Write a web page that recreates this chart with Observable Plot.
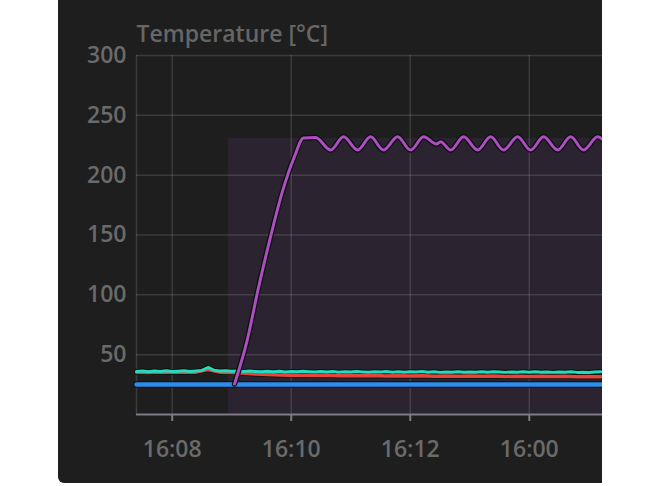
<!DOCTYPE html>
<html>
<head>
<meta charset="utf-8">
<script src="https://cdn.jsdelivr.net/npm/d3@7"></script>
<script src="https://cdn.jsdelivr.net/npm/@observablehq/plot@0.6"></script>
<style>
  html, body { margin: 0; padding: 0; background: #ffffff; width: 670px; height: 486px; overflow: hidden; }
  #panel { position: absolute; left: 58px; top: 0; width: 544px; height: 483px; background: #1e1e1e; border-bottom-left-radius: 6px; overflow: hidden; }
</style>
</head>
<body>
<div id="panel"></div>
<script>
// ---- data (minutes after 16:00) ----
const title = "Temperature [°C]";
const xDomain = [7.4, 15.23];
const yDomain = [0, 300];
const xTicks = [8, 10, 12, 14];
const xTickLabels = ["16:08", "16:10", "16:12", "16:00"];
const yTicks = [50, 100, 150, 200, 250, 300];

// shaded heating window
const shadeStart = 8.946, shadeEnd = 15.4, shadeTop = 230.6;

// purple (heater) series
const purpleT = [9.047, 9.25, 9.45, 9.65, 9.85, 10.05, 10.207, 10.409, 10.661, 10.879, 11.114, 11.333, 11.551, 11.787, 12.005, 12.224, 12.442, 12.510, 12.678, 12.896, 13.131, 13.350, 13.568, 13.803, 14.022, 14.240, 14.476, 14.694, 14.913, 15.148, 15.37];
const purpleV = [25.5, 60, 106, 148, 186, 215, 231, 231.5, 221, 232, 221, 232, 221, 232, 221, 232, 226, 228, 221, 232, 221, 232, 221, 232, 221, 232, 221, 232, 221, 232, 221];

// cyan series, sampled every 0.1 min from 7.4
const cyanStart = 7.4, cyanStep = 0.1;
const cyanV = [36.0, 36.4, 35.8, 36.3, 36.0, 36.5, 35.9, 36.2, 36.6, 36.0, 36.4, 36.8,
  39.3,
  37.0, 36.3, 36.6, 36.1, 36.4, 35.9, 36.3, 36.0, 35.7, 36.2, 35.8, 36.1, 35.6, 36.0, 35.7, 36.2,
  35.8, 35.5, 36.0, 35.6, 35.9, 35.4, 35.8, 35.5, 36.0, 35.6, 35.3, 35.8, 35.5, 35.9, 35.4, 35.7,
  35.3, 35.8, 35.5, 35.9, 35.4, 35.7, 35.2, 35.6, 35.4, 35.8, 35.3, 35.6, 35.4, 35.8, 35.3, 35.7,
  35.5, 35.2, 35.6, 35.3, 35.7, 35.4, 35.8, 35.3, 35.6, 35.2, 35.5, 35.3, 35.7, 35.2, 35.4, 35.1,
  35.6, 35.8];

// red series, sampled every 0.2 min from 7.4
const redStart = 7.4, redStep = 0.2;
const redV = [35.4, 35.2, 35.5, 35.3, 35.6, 35.4, 37.6, 35.4, 35.0, 34.4, 33.8, 33.4, 33.1, 32.8,
  32.9, 32.6, 32.7, 32.4, 32.5, 32.3, 32.5, 32.2, 32.4, 32.1, 32.3, 32.0, 32.2, 31.9, 32.1, 31.9,
  32.1, 31.8, 32.0, 31.7, 31.9, 31.7, 31.9, 31.6, 31.8, 31.6];

// blue series
const blueT = [7.4, 15.4];
const blueV = [25, 25];

// ---- build tables ----
const purple = purpleT.map((t, i) => ({t, v: purpleV[i]}));
const cyan = cyanV.map((v, i) => ({t: cyanStart + i * cyanStep, v}));
const red = redV.map((v, i) => ({t: redStart + i * redStep, v}));
const blue = blueT.map((t, i) => ({t, v: blueV[i]}));

const halo = "#08120c";
const gridStroke = "rgba(255,255,255,0.13)";
const axisStroke = "#7d7b88";

const chart = Plot.plot({
  width: 544,
  height: 483,
  marginLeft: 78,
  marginRight: 0,
  marginTop: 55,
  marginBottom: 69,
  x: {type: "linear", domain: xDomain},
  y: {type: "linear", domain: yDomain},
  style: {
    background: "transparent",
    color: "#6a6a6a",
    fontFamily: "'Open Sans', sans-serif",
    fontSize: "23px",
    fontWeight: 600
  },
  marks: [
    Plot.rect([{x1: shadeStart, x2: shadeEnd, y1: yDomain[0], y2: shadeTop}], {x1: "x1", x2: "x2", y1: "y1", y2: "y2", fill: "#2b2330"}),
    Plot.gridY({ticks: yTicks, stroke: gridStroke, strokeOpacity: 1, strokeWidth: 1.5}),
    Plot.gridX({ticks: xTicks, stroke: gridStroke, strokeOpacity: 1, strokeWidth: 1.5}),
    Plot.ruleX([xDomain[0]], {stroke: gridStroke, strokeWidth: 1.5}),
    Plot.ruleY([yDomain[0]], {stroke: axisStroke, strokeWidth: 2}),
    Plot.axisX({ticks: xTicks, tickFormat: d => xTickLabels[xTicks.indexOf(d)], tickSize: 7, tickPadding: 19, stroke: axisStroke, strokeWidth: 2}),
    Plot.axisY({ticks: yTicks, tickSize: 0, tickPadding: 10}),
    Plot.text([title], {frameAnchor: "top-left", textAnchor: "start", lineAnchor: "bottom", dy: -14, fill: "#666666"}),
    // halos
    Plot.line(blue, {x: "t", y: "v", stroke: halo, strokeWidth: 6.5}),
    Plot.line(red, {x: "t", y: "v", stroke: halo, strokeWidth: 5}),
    Plot.line(cyan, {x: "t", y: "v", stroke: halo, strokeWidth: 5}),
    // colored lines
    Plot.line(blue, {x: "t", y: "v", stroke: "#2d8cee", strokeWidth: 4.5}),
    Plot.line(red, {x: "t", y: "v", stroke: "#e5453a", strokeWidth: 3.5}),
    Plot.line(cyan, {x: "t", y: "v", stroke: "#22dcc2", strokeWidth: 3}),
    // purple
    Plot.line(purple, {x: "t", y: "v", stroke: halo, strokeWidth: 5.5, curve: "monotone-x"}),
    Plot.line(purple, {x: "t", y: "v", stroke: "#b04cc4", strokeWidth: 3, curve: "monotone-x"})
  ]
});
document.getElementById("panel").appendChild(chart);
</script>
</body>
</html>
